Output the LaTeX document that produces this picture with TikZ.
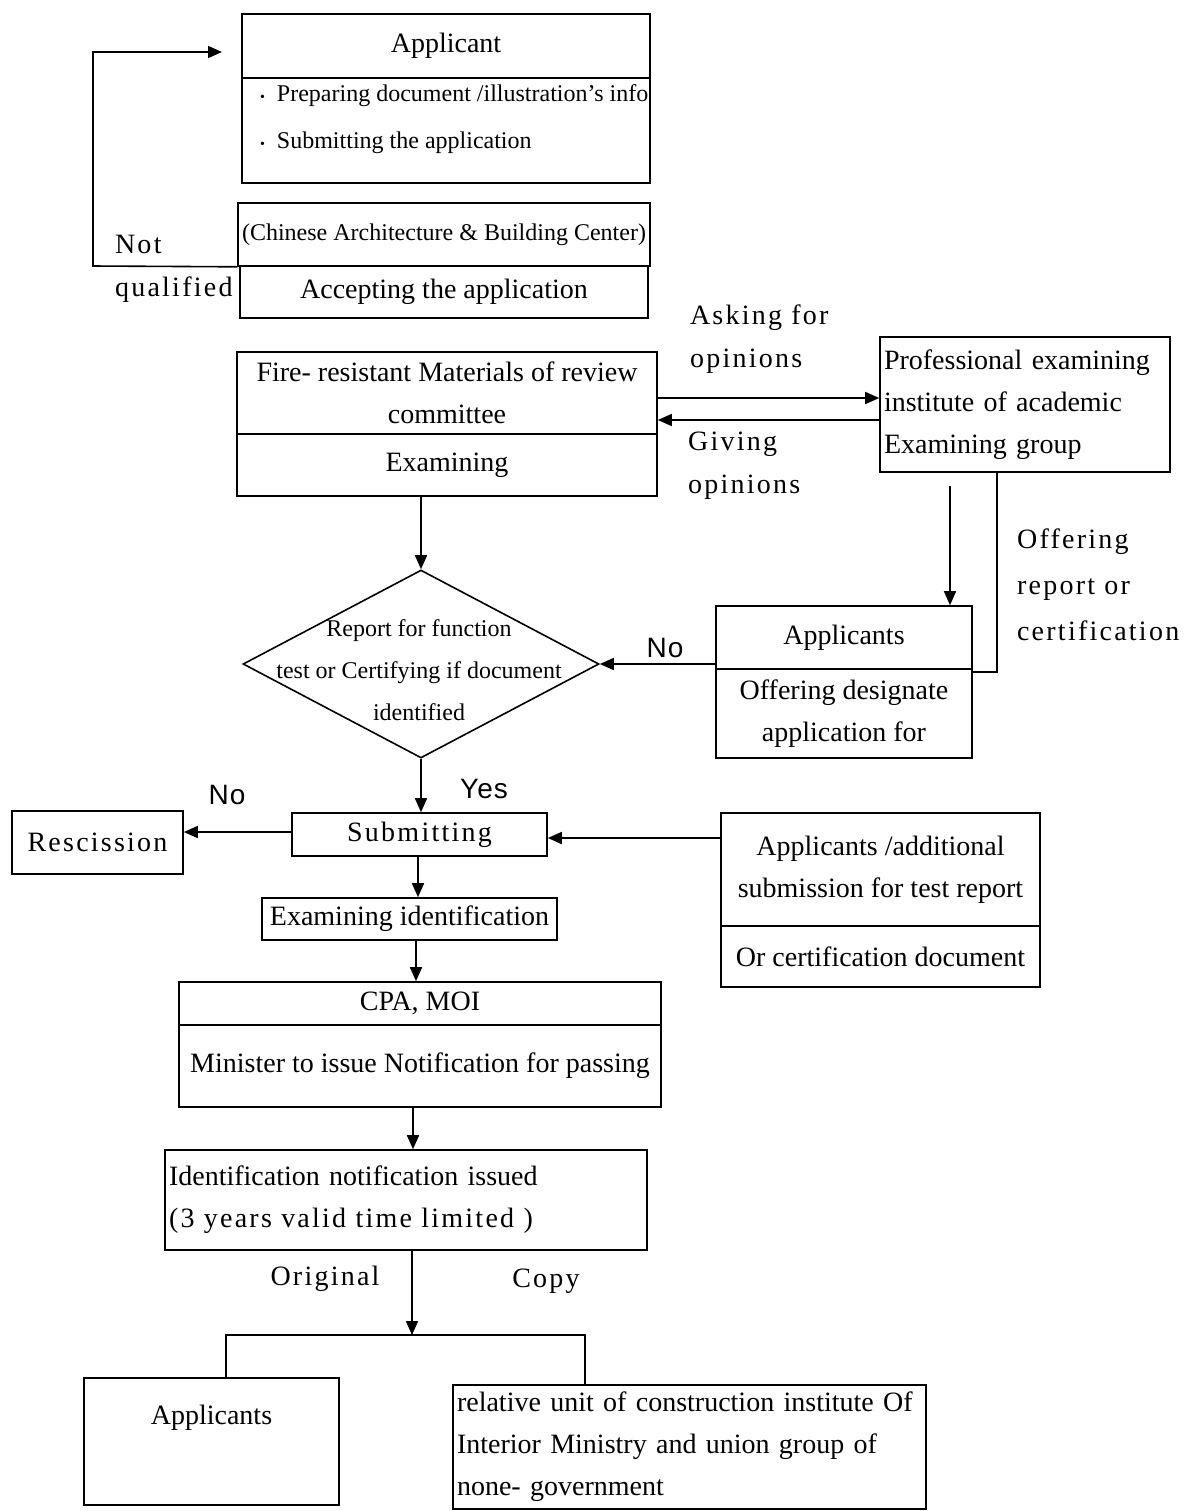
\documentclass[tikz,border=0pt]{standalone}
\usepackage{fontspec}
\setmainfont{Liberation Serif}
\newfontfamily\widefont[LetterSpace=8]{Liberation Serif}
\newfontfamily\sanslabel[LetterSpace=4]{Liberation Sans}
\usetikzlibrary{arrows.meta, shapes.geometric, calc}

\begin{document}
\begin{tikzpicture}[x=0.5pt, y=-0.5pt,
    every node/.style={font=\fontsize{14}{21}\selectfont},
    box/.style={draw, line width=0.8pt, inner xsep=2pt, inner ysep=0pt, align=center},
    lbox/.style={box, align=left},
    arr/.style={line width=0.8pt, -{Triangle[width=6pt,length=7pt]}},
    wire/.style={line width=0.8pt},
    small/.style={font=\fontsize{12}{23.5}\selectfont},
    wide/.style={font=\fontsize{14}{21.5}\selectfont\widefont, align=left},
    yn/.style={font=\fontsize{14}{21}\selectfont\sanslabel}]
    \useasboundingbox (0,0) rectangle (1185,1511);

    % Applicant
    \node[box, minimum width=204pt, minimum height=32pt] (apphead) at (446,46) {Applicant};
    \node[box, minimum width=204pt, minimum height=52.5pt] (appbody) at (446,130.5) {};
    \node[small, align=left, anchor=west] (apptext) at (253,119.5)
        {{\fontsize{7}{7}\selectfont\textbullet}\ \ Preparing document /illustration's info\\
         {\fontsize{7}{7}\selectfont\textbullet}\ \ Submitting the application};

    % Center accepting
    \node[box, minimum width=204pt, minimum height=31.5pt] (cabchead) at (444,234.5)
        {\fontsize{12}{14}\selectfont(Chinese Architecture \& Building Center)};
    \node[box, minimum width=204pt, minimum height=26pt] (cabcbody) at (444,292) {Accepting the application};

    % Not qualified loop
    \coordinate (nqend) at (222,52);
    \draw[arr] (cabchead.south west) -- (93,266) |- (nqend);
    \node[wide, anchor=west] (nqlabel) at (108,268.5) {Not\\qualified};

    % Review committee
    \node[box, minimum width=210pt, minimum height=41pt] (firehead) at (447,393)
        {Fire- resistant Materials of review\\committee};
    \node[box, minimum width=210pt, minimum height=31pt] (firebody) at (447,465) {Examining};

    % Examining group
    \node[lbox, text width=141pt, minimum height=67.5pt] (prof) at (1025,404.5)
        {Professional examining\\institute of academic\\Examining group};

    \draw[arr] (firehead.east |- 0,398) -- (prof.west |- 0,398);
    \draw[arr] (prof.west |- 0,420) -- (firehead.east |- 0,420);
    \node[wide, anchor=west] (asklabel) at (683,339) {Asking for\\opinions};
    \node[wide, anchor=west] (givelabel) at (681,465.5) {Giving\\opinions};

    % Decision
    \node[diamond, draw, line width=0.8pt, minimum width=178pt, minimum height=94pt, inner sep=0pt]
        (dec) at (421,664) {};
    \node[font=\fontsize{12}{21}\selectfont, align=center] (dectext) at (419,670.5)
        {Report for function\\test or Certifying if document\\identified};
    \draw[arr] (firebody.south -| dec.north) -- (dec.north);

    % Applicants offering
    \node[box, minimum width=128pt, minimum height=31.5pt] (apprhead) at (844,637.5) {Applicants};
    \node[box, minimum width=128pt, minimum height=44.5pt] (apprbody) at (844,713.5)
        {Offering designate\\application for};
    \draw[arr, shorten <=6.5pt] (prof.south -| 950,0) -- (apprhead.north -| 950,0);
    \draw[wire] (prof.south -| 997,0) |- (apprhead.east |- 0,672);
    \node[wide, anchor=west, font=\fontsize{14}{23}\selectfont\widefont] (offlabel) at (1010,584.5)
        {Offering\\report or\\certification};
    \draw[arr] (apprhead.west |- dec.east) -- (dec.east);
    \node[yn] (no1) at (665,648) {No};

    % Submitting
    \node[box, minimum width=127.5pt, minimum height=21.5pt, font=\fontsize{14}{21}\selectfont\widefont]
        (subm) at (419.5,834.5) {Submitting};
    \draw[arr] (dec.south) -- (dec.south |- subm.north);
    \node[yn] (yes) at (484,789) {Yes};

    \node[box, minimum width=85.5pt, minimum height=31.5pt, font=\fontsize{14}{21}\selectfont\widefont]
        (resc) at (97.5,842.5) {Rescission};
    \draw[arr] (subm.west |- 0,832) -- (resc.east |- 0,832);
    \node[yn] (no2) at (227,795) {No};

    \node[box, minimum width=159.5pt, minimum height=56.5pt] (addhead) at (880.5,869.5)
        {Applicants /additional\\submission for test report};
    \node[box, minimum width=159.5pt, minimum height=30.5pt] (addbody) at (880.5,956.5)
        {Or certification document};
    \draw[arr] (addhead.west |- 0,838) -- (subm.east |- 0,838);

    % Identification
    \node[box, minimum width=147.5pt, minimum height=21pt] (examid) at (409.5,919) {Examining identification};
    \draw[arr] (subm.south -| 418,0) -- (examid.north -| 418,0);

    \node[box, minimum width=241pt, minimum height=21.5pt] (cpahead) at (420,1003.5) {CPA, MOI};
    \node[box, minimum width=241pt, minimum height=41pt] (cpabody) at (420,1066)
        {Minister to issue Notification for passing};
    \draw[arr] (examid.south -| 416,0) -- (cpahead.north -| 416,0);

    \node[lbox, text width=237pt, minimum height=50pt] (ident) at (406,1200)
        {Identification notification issued\\{\widefont(3 years valid time limited )}};
    \draw[arr] (cpabody.south -| 413,0) -- (ident.north -| 413,0);

    % Distribution
    \coordinate (split) at (412,1335);
    \draw[arr] (ident.south -| split) -- (split);
    \node[wide] (orig) at (325,1279) {Original};
    \node[wide] (copy) at (546,1281) {Copy};

    \node[box, minimum width=127.5pt, minimum height=63.5pt] (applb) at (211.5,1441.5) {};
    \node (applbtext) at (211.5,1418) {Applicants};
    \node[lbox, text width=232.5pt, minimum height=62pt] (relb) at (689.5,1447)
        {relative unit of construction institute Of\\Interior Ministry and union group of\\none- government};
    \draw[wire] (applb.north -| 226,0) |- (split) -| (relb.north -| 585,0);
\end{tikzpicture}
\end{document}
